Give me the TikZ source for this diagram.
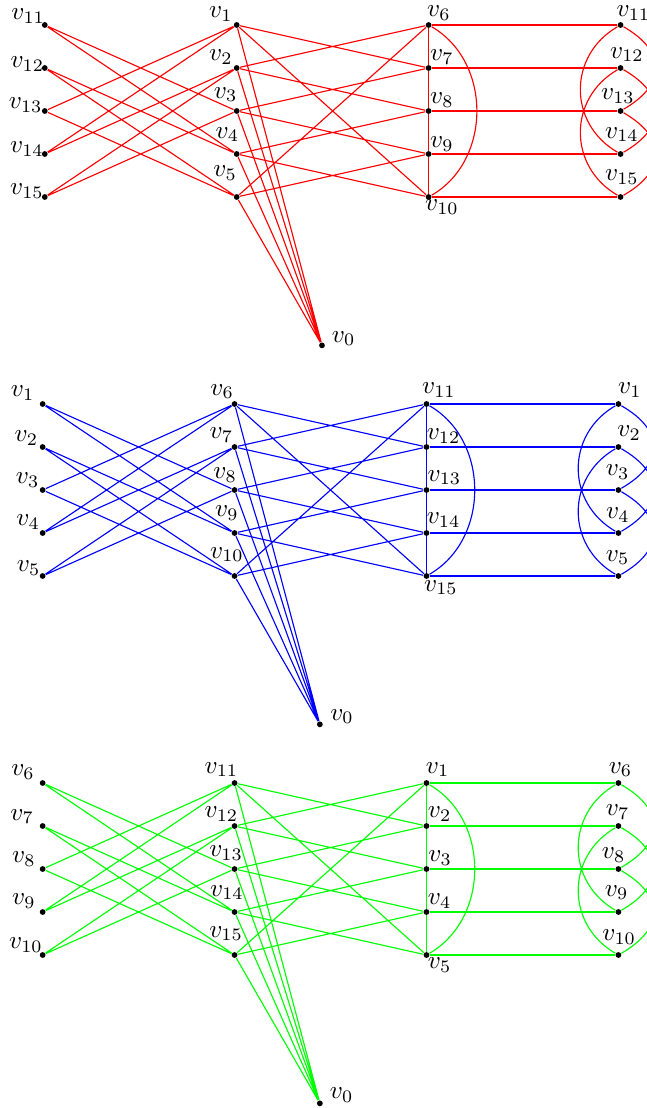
\documentclass[tikz,border=0pt]{standalone}
\usepackage{amsmath,amssymb}
\usepackage{tikz}
\usetikzlibrary{positioning}

\tikzset{
  vtx/.style={circle, fill=black, inner sep=0pt, minimum size=2.3pt},
  lab/.style={inner sep=0pt},
  cycarc/.style={bend left=60, looseness=1.06},
  longarc/.style={bend right=60, looseness=1.17},
  shortarc/.style={bend left=60, looseness=1.55}
}

\begin{document}
\begin{tikzpicture}[x=0.5951cm, y=0.6cm, line width=0.45pt]
  \clip (-1.0,0.5814) rectangle (14.17,-25.186);

  % first copy (red)
  \begin{scope}[shift={(0.05,0)}]
    \node[vtx] (aL1) at (0,0) {};
    \node[vtx] (aL2) at (0,-1) {};
    \node[vtx] (aL3) at (0,-2) {};
    \node[vtx] (aL4) at (0,-3) {};
    \node[vtx] (aL5) at (0,-4) {};
    \node[vtx] (aM1) at (4.5,0) {};
    \node[vtx] (aM2) at (4.5,-1) {};
    \node[vtx] (aM3) at (4.5,-2) {};
    \node[vtx] (aM4) at (4.5,-3) {};
    \node[vtx] (aM5) at (4.5,-4) {};
    \node[vtx] (aN1) at (9,0) {};
    \node[vtx] (aN2) at (9,-1) {};
    \node[vtx] (aN3) at (9,-2) {};
    \node[vtx] (aN4) at (9,-3) {};
    \node[vtx] (aN5) at (9,-4) {};
    \node[vtx] (aR1) at (13.5,0) {};
    \node[vtx] (aR2) at (13.5,-1) {};
    \node[vtx] (aR3) at (13.5,-2) {};
    \node[vtx] (aR4) at (13.5,-3) {};
    \node[vtx] (aR5) at (13.5,-4) {};
    \node[vtx] (a0) at (6.5,-7.45) {};
    % labels
    \node[lab] (taL1) at (-0.39,0.20) {$v_{11}$};
    \node[lab] (taL2) at (-0.41,-0.91) {$v_{12}$};
    \node[lab] (taL3) at (-0.45,-1.87) {$v_{13}$};
    \node[lab] (taL4) at (-0.42,-2.88) {$v_{14}$};
    \node[lab] (taL5) at (-0.42,-3.87) {$v_{15}$};
    \node[lab] (taM1) at (4.13,0.25) {$v_1$};
    \node[lab] (taM2) at (4.13,-0.75) {$v_2$};
    \node[lab] (taM3) at (4.24,-1.62) {$v_3$};
    \node[lab] (taM4) at (4.28,-2.55) {$v_4$};
    \node[lab] (taM5) at (4.23,-3.45) {$v_5$};
    \node[lab] (taN1) at (9.24,0.27) {$v_6$};
    \node[lab] (taN2) at (9.31,-0.75) {$v_7$};
    \node[lab] (taN3) at (9.31,-1.75) {$v_8$};
    \node[lab] (taN4) at (9.31,-2.77) {$v_9$};
    \node[lab] (taN5) at (9.31,-4.23) {$v_{10}$};
    \node[lab] (taR1) at (13.80,0.27) {$v_{11}$};
    \node[lab] (taR2) at (13.65,-0.69) {$v_{12}$};
    \node[lab] (taR3) at (13.44,-1.65) {$v_{13}$};
    \node[lab] (taR4) at (13.53,-2.55) {$v_{14}$};
    \node[lab] (taR5) at (13.53,-3.53) {$v_{15}$};
    \node[lab] (ta0) at (7.01,-7.29) {$v_0$};
    % edges
    \draw[red] (aL1) -- (aM3) (aL1) -- (aM4) (aL2) -- (aM4) (aL2) -- (aM5)
               (aL3) -- (aM5) (aL3) -- (aM1) (aL4) -- (aM1) (aL4) -- (aM2)
               (aL5) -- (aM2) (aL5) -- (aM3);
    \draw[red] (aM1) -- (aN2) (aM1) -- (aN5) (aM2) -- (aN1) (aM2) -- (aN3)
               (aM3) -- (aN2) (aM3) -- (aN4) (aM4) -- (aN3) (aM4) -- (aN5)
               (aM5) -- (aN4) (aM5) -- (aN1);
    \draw[red] (aM1) -- (a0) (aM2) -- (a0) (aM3) -- (a0) (aM4) -- (a0) (aM5) -- (a0);
    \draw[red] (aN1) -- (aN2) -- (aN3) -- (aN4) -- (aN5);
    \draw[red] (aN1) to[cycarc] (aN5);
    \draw[red] (aN1) -- (aR1) (aN2) -- (aR2) (aN3) -- (aR3) (aN4) -- (aR4) (aN5) -- (aR5);
    \draw[red] (aR1) to[longarc] (aR4) (aR2) to[longarc] (aR5);
    \draw[red] (aR1) to[shortarc] (aR3) (aR2) to[shortarc] (aR4) (aR3) to[shortarc] (aR5);
  \end{scope}

  % second copy (blue)
  \begin{scope}[shift={(0,-8.814)}]
    \node[vtx] (bL1) at (0,0) {};
    \node[vtx] (bL2) at (0,-1) {};
    \node[vtx] (bL3) at (0,-2) {};
    \node[vtx] (bL4) at (0,-3) {};
    \node[vtx] (bL5) at (0,-4) {};
    \node[vtx] (bM1) at (4.5,0) {};
    \node[vtx] (bM2) at (4.5,-1) {};
    \node[vtx] (bM3) at (4.5,-2) {};
    \node[vtx] (bM4) at (4.5,-3) {};
    \node[vtx] (bM5) at (4.5,-4) {};
    \node[vtx] (bN1) at (9,0) {};
    \node[vtx] (bN2) at (9,-1) {};
    \node[vtx] (bN3) at (9,-2) {};
    \node[vtx] (bN4) at (9,-3) {};
    \node[vtx] (bN5) at (9,-4) {};
    \node[vtx] (bR1) at (13.5,0) {};
    \node[vtx] (bR2) at (13.5,-1) {};
    \node[vtx] (bR3) at (13.5,-2) {};
    \node[vtx] (bR4) at (13.5,-3) {};
    \node[vtx] (bR5) at (13.5,-4) {};
    \node[vtx] (b0) at (6.5,-7.45) {};
    % labels
    \node[lab] (tbL1) at (-0.47,0.26) {$v_1$};
    \node[lab] (tbL2) at (-0.38,-0.79) {$v_2$};
    \node[lab] (tbL3) at (-0.35,-1.77) {$v_3$};
    \node[lab] (tbL4) at (-0.34,-2.75) {$v_4$};
    \node[lab] (tbL5) at (-0.33,-3.81) {$v_5$};
    \node[lab] (tbM1) at (4.21,0.29) {$v_6$};
    \node[lab] (tbM2) at (4.19,-0.73) {$v_7$};
    \node[lab] (tbM3) at (4.28,-1.65) {$v_8$};
    \node[lab] (tbM4) at (4.32,-2.54) {$v_9$};
    \node[lab] (tbM5) at (4.32,-3.50) {$v_{10}$};
    \node[lab] (tbN1) at (9.29,0.33) {$v_{11}$};
    \node[lab] (tbN2) at (9.40,-0.74) {$v_{12}$};
    \node[lab] (tbN3) at (9.42,-1.71) {$v_{13}$};
    \node[lab] (tbN4) at (9.40,-2.70) {$v_{14}$};
    \node[lab] (tbN5) at (9.34,-4.27) {$v_{15}$};
    \node[lab] (tbR1) at (13.77,0.33) {$v_1$};
    \node[lab] (tbR2) at (13.75,-0.67) {$v_2$};
    \node[lab] (tbR3) at (13.48,-1.59) {$v_3$};
    \node[lab] (tbR4) at (13.49,-2.58) {$v_4$};
    \node[lab] (tbR5) at (13.48,-3.57) {$v_5$};
    \node[lab] (tb0) at (7.02,-7.27) {$v_0$};
    % edges
    \draw[blue] (bL1) -- (bM3) (bL1) -- (bM4) (bL2) -- (bM4) (bL2) -- (bM5)
                (bL3) -- (bM5) (bL3) -- (bM1) (bL4) -- (bM1) (bL4) -- (bM2)
                (bL5) -- (bM2) (bL5) -- (bM3);
    \draw[blue] (bM1) -- (bN2) (bM1) -- (bN5) (bM2) -- (bN1) (bM2) -- (bN3)
                (bM3) -- (bN2) (bM3) -- (bN4) (bM4) -- (bN3) (bM4) -- (bN5)
                (bM5) -- (bN4) (bM5) -- (bN1);
    \draw[blue] (bM1) -- (b0) (bM2) -- (b0) (bM3) -- (b0) (bM4) -- (b0) (bM5) -- (b0);
    \draw[blue] (bN1) -- (bN2) -- (bN3) -- (bN4) -- (bN5);
    \draw[blue] (bN1) to[cycarc] (bN5);
    \draw[blue] (bN1) -- (bR1) (bN2) -- (bR2) (bN3) -- (bR3) (bN4) -- (bR4) (bN5) -- (bR5);
    \draw[blue] (bR1) to[longarc] (bR4) (bR2) to[longarc] (bR5);
    \draw[blue] (bR1) to[shortarc] (bR3) (bR2) to[shortarc] (bR4) (bR3) to[shortarc] (bR5);
  \end{scope}

  % third copy (green)
  \begin{scope}[shift={(0,-17.628)}]
    \node[vtx] (cL1) at (0,0) {};
    \node[vtx] (cL2) at (0,-1) {};
    \node[vtx] (cL3) at (0,-2) {};
    \node[vtx] (cL4) at (0,-3) {};
    \node[vtx] (cL5) at (0,-4) {};
    \node[vtx] (cM1) at (4.5,0) {};
    \node[vtx] (cM2) at (4.5,-1) {};
    \node[vtx] (cM3) at (4.5,-2) {};
    \node[vtx] (cM4) at (4.5,-3) {};
    \node[vtx] (cM5) at (4.5,-4) {};
    \node[vtx] (cN1) at (9,0) {};
    \node[vtx] (cN2) at (9,-1) {};
    \node[vtx] (cN3) at (9,-2) {};
    \node[vtx] (cN4) at (9,-3) {};
    \node[vtx] (cN5) at (9,-4) {};
    \node[vtx] (cR1) at (13.5,0) {};
    \node[vtx] (cR2) at (13.5,-1) {};
    \node[vtx] (cR3) at (13.5,-2) {};
    \node[vtx] (cR4) at (13.5,-3) {};
    \node[vtx] (cR5) at (13.5,-4) {};
    \node[vtx] (c0) at (6.5,-7.45) {};
    % labels
    \node[lab] (tcL1) at (-0.46,0.25) {$v_6$};
    \node[lab] (tcL2) at (-0.48,-0.78) {$v_7$};
    \node[lab] (tcL3) at (-0.44,-1.77) {$v_8$};
    \node[lab] (tcL4) at (-0.44,-2.74) {$v_9$};
    \node[lab] (tcL5) at (-0.39,-3.77) {$v_{10}$};
    \node[lab] (tcM1) at (4.19,0.31) {$v_{11}$};
    \node[lab] (tcM2) at (4.19,-0.72) {$v_{12}$};
    \node[lab] (tcM3) at (4.30,-1.63) {$v_{13}$};
    \node[lab] (tcM4) at (4.32,-2.55) {$v_{14}$};
    \node[lab] (tcM5) at (4.30,-3.50) {$v_{15}$};
    \node[lab] (tcN1) at (9.26,0.31) {$v_1$};
    \node[lab] (tcN2) at (9.31,-0.72) {$v_2$};
    \node[lab] (tcN3) at (9.32,-1.75) {$v_3$};
    \node[lab] (tcN4) at (9.31,-2.74) {$v_4$};
    \node[lab] (tcN5) at (9.31,-4.23) {$v_5$};
    \node[lab] (tcR1) at (13.55,0.31) {$v_6$};
    \node[lab] (tcR2) at (13.48,-0.68) {$v_7$};
    \node[lab] (tcR3) at (13.39,-1.67) {$v_8$};
    \node[lab] (tcR4) at (13.46,-2.55) {$v_9$};
    \node[lab] (tcR5) at (13.52,-3.59) {$v_{10}$};
    \node[lab] (tc0) at (7.01,-7.25) {$v_0$};
    % edges
    \draw[green] (cL1) -- (cM3) (cL1) -- (cM4) (cL2) -- (cM4) (cL2) -- (cM5)
                 (cL3) -- (cM5) (cL3) -- (cM1) (cL4) -- (cM1) (cL4) -- (cM2)
                 (cL5) -- (cM2) (cL5) -- (cM3);
    \draw[green] (cM1) -- (cN2) (cM1) -- (cN5) (cM2) -- (cN1) (cM2) -- (cN3)
                 (cM3) -- (cN2) (cM3) -- (cN4) (cM4) -- (cN3) (cM4) -- (cN5)
                 (cM5) -- (cN4) (cM5) -- (cN1);
    \draw[green] (cM1) -- (c0) (cM2) -- (c0) (cM3) -- (c0) (cM4) -- (c0) (cM5) -- (c0);
    \draw[green] (cN1) -- (cN2) -- (cN3) -- (cN4) -- (cN5);
    \draw[green] (cN1) to[cycarc] (cN5);
    \draw[green] (cN1) -- (cR1) (cN2) -- (cR2) (cN3) -- (cR3) (cN4) -- (cR4) (cN5) -- (cR5);
    \draw[green] (cR1) to[longarc] (cR4) (cR2) to[longarc] (cR5);
    \draw[green] (cR1) to[shortarc] (cR3) (cR2) to[shortarc] (cR4) (cR3) to[shortarc] (cR5);
  \end{scope}
\end{tikzpicture}
\end{document}
